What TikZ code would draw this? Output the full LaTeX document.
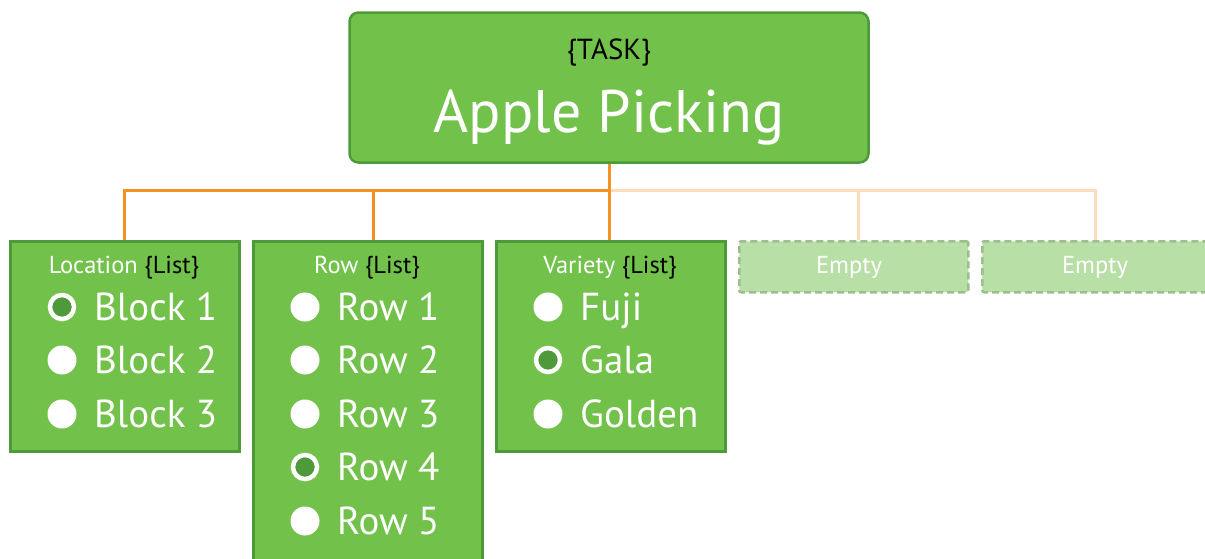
\documentclass[tikz,border=0pt]{standalone}
\usepackage{fontspec}
\setmainfont{PT Sans}
\definecolor{gfill}{HTML}{72C14B}
\definecolor{gline}{HTML}{4E9A3A}
\definecolor{efill}{HTML}{B8DFA6}
\definecolor{eline}{HTML}{9DBF8E}
\definecolor{orng}{HTML}{F39222}
\definecolor{lorng}{HTML}{FBDDBC}
\tikzset{
  taskbox/.style={draw=gline, line width=2.5pt, fill=gfill, rounded corners=9pt},
  listbox/.style={draw=gline, line width=2.5pt, fill=gfill},
  emptybox/.style={draw=eline, line width=2.5pt, fill=efill, dashed, dash pattern=on 7pt off 4pt, rounded corners=2pt},
  conn/.style={draw=orng, line width=3pt},
  lconn/.style={draw=lorng, line width=3pt},
  radio/.style={circle, fill=white, minimum size=29pt, inner sep=0pt},
  sel/.style={circle, draw=white, line width=4.5pt, fill=gline, minimum size=24pt, inner sep=0pt},
  item/.style={anchor=west, text=white, font=\fontsize{39}{44}\selectfont, inner sep=0pt, text height=27pt, text depth=0pt},
  ttl/.style={text=white, font=\fontsize{24.5}{28}\selectfont, inner sep=0pt, text height=17pt, text depth=0pt},
}
\begin{document}
\begin{tikzpicture}[x=1pt,y=-1pt]
\useasboundingbox (0,0) rectangle (1205,558);
\clip (0,0) rectangle (1205,558);
% connectors
\coordinate (hub) at (609,190);
\coordinate (hl) at (124,190);
\coordinate (hm) at (373,190);
\coordinate (hr1) at (858,190);
\coordinate (hr2) at (1095,190);
% boxes
\node[taskbox, minimum width=519pt, minimum height=150pt] (task) at (609,87.5) {};
\node[text=black, font=\fontsize{29}{32}\selectfont, inner sep=0pt, text height=20pt, text depth=0pt] (tasklbl) at (609,49) {\{TASK\}};
\node[text=white, font=\fontsize{60}{66}\selectfont, inner sep=0pt, text height=43pt, text depth=0pt] (taskname) at (609,111) {Apple Picking};

\draw[lconn] (hub) -- (hr2) -- (1095,240);
\draw[lconn] (hr1) -- (858,240);
\draw[conn] (task.south) -- (hub) -- (hl) -- (124,240);
\draw[conn] (hm) -- (373,240);
\draw[conn] (hub) -- (609,240);

\node[listbox, minimum width=229pt, minimum height=210pt, anchor=north west] (loc) at (9,240) {};
\node[listbox, minimum width=229pt, minimum height=340pt, anchor=north west] (row) at (252,240) {};
\node[listbox, minimum width=229pt, minimum height=210pt, anchor=north west] (var) at (495,240) {};
\node[emptybox, minimum width=229pt, minimum height=51pt, anchor=north west] (e1) at (738,240) {};
\node[emptybox, minimum width=229pt, minimum height=51pt, anchor=north west] (e2) at (981,240) {};

\node[ttl] (loct) at (124,265) {Location \textcolor{black}{\{List\}}};
\node[ttl] (rowt) at (367,265) {Row \textcolor{black}{\{List\}}};
\node[ttl] (vart) at (610,265) {Variety \textcolor{black}{\{List\}}};
\node[ttl] (e1t) at (849,265) {Empty};
\node[ttl] (e2t) at (1095,265) {Empty};

% Location
\node[sel] (l1c) at (62,307) {};
\node[item] (l1) at (94,307) {Block 1};
\node[radio] (l2c) at (62,360) {};
\node[item] (l2) at (94,360) {Block 2};
\node[radio] (l3c) at (62,414) {};
\node[item] (l3) at (94,414) {Block 3};
% Row
\node[radio] (r1c) at (305,307) {};
\node[item] (r1) at (337,307) {Row 1};
\node[radio] (r2c) at (305,360) {};
\node[item] (r2) at (337,360) {Row 2};
\node[radio] (r3c) at (305,414) {};
\node[item] (r3) at (337,414) {Row 3};
\node[sel] (r4c) at (305,467) {};
\node[item] (r4) at (337,467) {Row 4};
\node[radio] (r5c) at (305,521) {};
\node[item] (r5) at (337,521) {Row 5};
% Variety
\node[radio] (v1c) at (548,307) {};
\node[item] (v1) at (580,307) {Fuji};
\node[sel] (v2c) at (548,360) {};
\node[item] (v2) at (580,360) {Gala};
\node[radio] (v3c) at (548,414) {};
\node[item] (v3) at (580,414) {Golden};
\end{tikzpicture}
\end{document}
